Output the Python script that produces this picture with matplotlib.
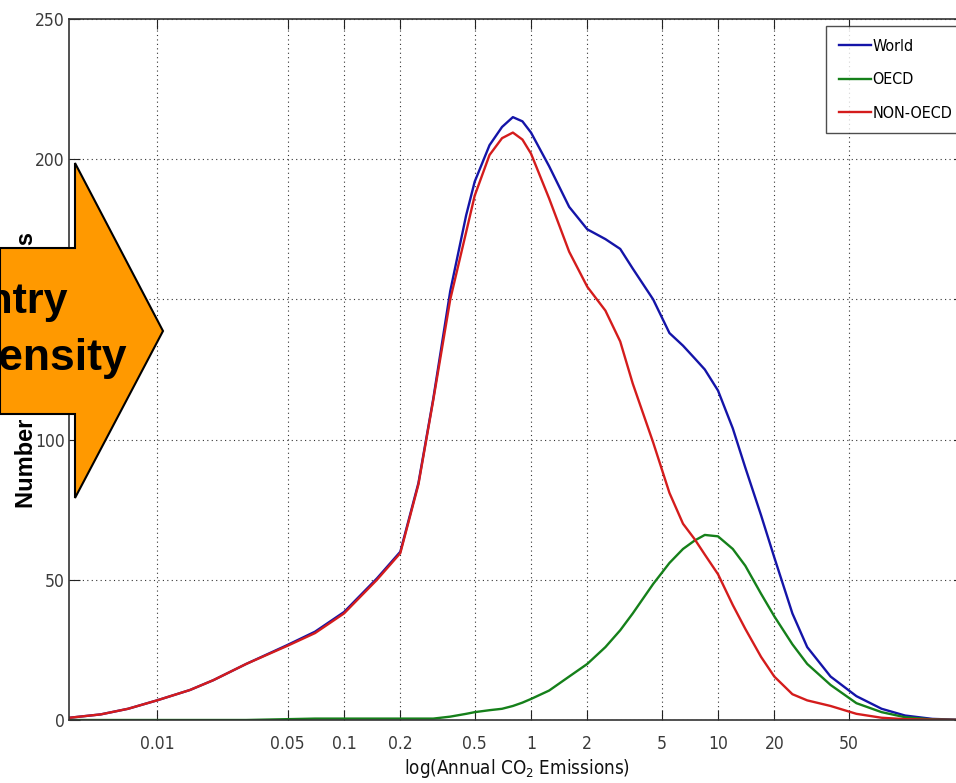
import matplotlib
matplotlib.use("Agg")
import matplotlib.pyplot as plt
from matplotlib.patches import Polygon

plt.rcParams['font.family'] = ['DejaVu Sans']
plt.rcParams['font.stretch'] = 'condensed'
plt.rcParams['mathtext.fontset'] = 'custom'
plt.rcParams['mathtext.rm'] = 'DejaVu Sans:stretch=condensed'

# ---- data ----
emissions = [0.0034, 0.005, 0.007, 0.01, 0.015, 0.02, 0.03, 0.05, 0.07, 0.1, 0.15, 0.2,
             0.25, 0.3, 0.37, 0.45, 0.5, 0.6, 0.7, 0.8, 0.9, 1.0, 1.25, 1.6, 2.0, 2.5,
             3.0, 3.5, 4.5, 5.5, 6.5, 7.5, 8.5, 10, 12, 14, 17, 20, 25, 30, 40, 55,
             75, 100, 140, 210]
world = [0.8, 2.0, 4.0, 7.0, 10.7, 14.2, 20.0, 26.8, 31.5, 38.5, 50.5, 60.0,
         84.5, 114.5, 153, 180, 192, 205, 211.5, 215, 213.5, 209.5, 197.5, 183, 175, 171.5,
         168, 161, 150, 138, 133.5, 129, 125, 117.5, 104, 90, 73, 58, 38, 26, 15.5, 8.5,
         4.0, 1.6, 0.4, 0.0]
oecd = [0, 0, 0, 0, 0, 0, 0, 0.3, 0.5, 0.5, 0.5, 0.5,
        0.5, 0.5, 1.2, 2.2, 2.8, 3.5, 4.0, 5.0, 6.2, 7.5, 10.5, 15.5, 20, 26,
        32, 38, 48.5, 56, 61, 64, 66, 65.5, 61, 55, 45, 37, 27, 20, 12.5, 6,
        2.8, 1.0, 0.2, 0.0]
non_oecd = [0.8, 2.0, 4.0, 7.0, 10.7, 14.2, 20.0, 26.5, 31, 38, 50, 59.5,
            84, 114, 150, 174, 187, 201.5, 207.5, 209.5, 207, 202, 186, 167, 154.5, 146,
            135, 120, 99, 81, 70, 64.5, 59, 52, 41, 32.5, 22.5, 15.5, 9.2, 7, 5.0, 2.2,
            0.8, 0.3, 0.1, 0.0]
series_names = ["World", "OECD", "NON-OECD"]
series_colors = ["#1414a8", "#15801a", "#d41c1c"]
xticks = [0.01, 0.05, 0.1, 0.2, 0.5, 1, 2, 5, 10, 20, 50]
xticklabels = ["0.01", "0.05", "0.1", "0.2", "0.5", "1", "2", "5", "10", "20", "50"]
yticks = [0, 50, 100, 150, 200, 250]

W, H = 956, 783
fig = plt.figure(figsize=(W / 100, H / 100), dpi=100)
fig.patch.set_facecolor("white")

def fx(px):
    return px / W

def fy(py):
    return 1 - py / H

ax = fig.add_axes([fx(69), fy(720), fx(965) - fx(69), fy(19) - fy(720)])
ax.set_xscale("log")
for vals, name, col in zip([world, oecd, non_oecd], series_names, series_colors):
    ax.plot(emissions, vals, color=col, lw=1.7, label=name)

ax.set_xlim(0.003383, 209.4)
ax.set_ylim(0, 250)
ax.set_xticks(xticks)
ax.set_xticklabels(xticklabels)
ax.minorticks_off()
ax.set_yticks(yticks)
ax.tick_params(axis="both", direction="in", top=True, right=True, labelsize=12.5,
               labelcolor="#3a3a3a", color="#222222")
ax.tick_params(axis="x", length=7, pad=11)
ax.tick_params(axis="y", length=8, pad=3)
ax.grid(True, linestyle=(0, (1, 3)), color="#333333", lw=0.8)
for s in ax.spines.values():
    s.set_color("#333333")
    s.set_linewidth(1.2)

ax.set_xlabel(r"log(Annual CO$_2$ Emissions)", fontsize=13.5, color="#111111", labelpad=3)
ax.set_ylabel("Number of Observations", fontsize=17, fontweight="bold",
              family=["Liberation Sans", "DejaVu Sans"], stretch="normal")
ax.yaxis.set_label_coords((38 - 69) / (965 - 69), 0.5)

leg = ax.legend(loc="upper left", bbox_to_anchor=(fx(826), fy(26)),
                bbox_transform=fig.transFigure, frameon=True, fancybox=False,
                fontsize=11.5, handlelength=2.0, handletextpad=0.1,
                labelspacing=1.15, borderpad=0.8, borderaxespad=0)
leg.get_frame().set_edgecolor("#222222")
leg.get_frame().set_linewidth(1.0)

# decorative arrow overlay
arrow_pts = [(0, 248), (75, 248), (75, 163), (163, 331), (75, 498), (75, 414), (0, 414)]
poly = Polygon([(fx(x), fy(y)) for x, y in arrow_pts], closed=True,
               transform=fig.transFigure, facecolor="#FF9900", edgecolor="black",
               lw=1.5, zorder=5)
fig.patches.append(poly)
fig.text(fx(68), fy(313), "Country", ha="right", va="baseline", fontsize=31,
         fontweight="bold", family=["Liberation Sans", "DejaVu Sans"], stretch="normal",
         zorder=6)
fig.text(fx(127), fy(370), "Density", ha="right", va="baseline", fontsize=32,
         fontweight="bold", family=["Liberation Sans", "DejaVu Sans"], stretch="normal",
         zorder=6)

fig.savefig("out.png", dpi=100)
